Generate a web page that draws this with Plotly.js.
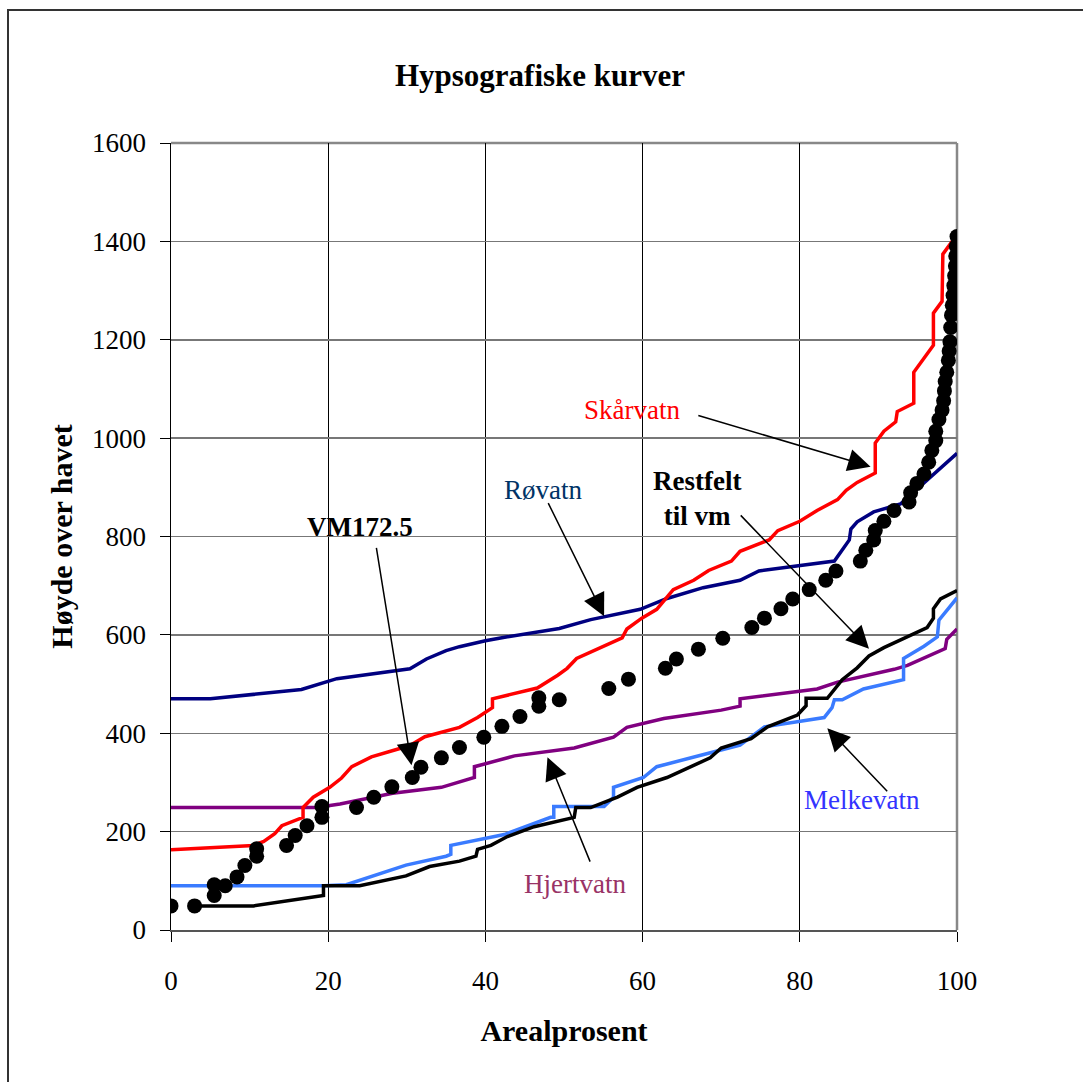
<!DOCTYPE html>
<html>
<head>
<meta charset="utf-8">
<script src="https://cdn.plot.ly/plotly-3.0.1.min.js"></script>
<style>
  html, body { margin: 0; padding: 0; background: #fff; }
  #chart { width: 1083px; height: 1082px; position: relative; }
  #frame { position: absolute; left: 7px; top: 9px; width: 1100px; height: 1100px;
           border-left: 2px solid #333; border-top: 2px solid #333; pointer-events: none; }
</style>
</head>
<body>
<div id="chart"></div>
<div id="frame"></div>
<script>
// ---- Data ----
const rovatnX = [0, 5, 16.6, 21.1, 30.4, 32.5, 35, 36.7, 40, 42.8, 49.4, 53.4, 59.7, 63.1, 67.7, 72.4, 74.8, 80, 84.4, 86.3, 86.5, 87.3, 89.4, 92.8, 100];
const rovatnY = [470, 470, 489, 511, 531, 551, 568, 576, 588, 596, 613, 631, 652, 674, 696, 711, 730, 740, 750, 793, 815, 830, 850, 866, 969];

const skarvatnX = [0, 10.5, 11.8, 13.2, 14.1, 16.8, 16.8, 18.1, 20.2, 21.7, 23, 25.5, 28.9, 30.4, 32.3, 36.7, 39, 40.9, 40.9, 43.7, 46.6, 49.2, 50.4, 51.6, 57.4, 58, 59.9, 61.8, 63.3, 63.9, 66.5, 68.4, 71.3, 72.4, 76.1, 77.2, 80, 82.2, 84.8, 85.9, 87.3, 89.6, 89.6, 90.7, 92.2, 92.4, 94.5, 94.5, 97, 97, 98.1, 98.2, 99.6];
const skarvatnY = [163, 172, 180, 196, 212, 229, 249, 270, 290, 309, 332, 352, 368, 375, 393, 412, 432, 452, 470, 481, 492, 518, 532, 552, 594, 612, 634, 652, 681, 692, 711, 731, 750, 770, 793, 812, 831, 853, 875, 894, 910, 929, 990, 1014, 1033, 1054, 1071, 1134, 1189, 1254, 1278, 1374, 1405];

const hjertvatnX = [0, 18.5, 21.5, 28.2, 34.4, 36.7, 38.6, 38.6, 43.7, 51.3, 56.3, 58, 62.7, 70, 72.4, 72.4, 82.2, 84.8, 92, 93.7, 98.5, 98.7, 100];
const hjertvatnY = [249, 249, 256, 278, 290, 300, 310, 332, 354, 370, 392, 412, 430, 447, 455, 470, 490, 504, 530, 538, 572, 591, 612];

const melkevatnX = [0, 19.4, 22.3, 24, 29.9, 35, 35.6, 35.6, 42.4, 48.3, 48.7, 48.7, 55.1, 56.3, 56.3, 60.1, 61.8, 72.4, 75.5, 83.1, 84.1, 84.4, 85.4, 88.1, 93.2, 93.2, 95.8, 97.5, 97.7, 100];
const melkevatnY = [90, 90, 92, 101, 132, 150, 154, 172, 194, 229, 229, 251, 251, 270, 290, 310, 332, 376, 413, 432, 452, 468, 468, 490, 509, 552, 577, 596, 630, 675];

const restfeltX = [3, 10.5, 19.4, 19.4, 24, 29.9, 32.9, 36.7, 38.8, 39, 40.7, 42.8, 46.2, 51.3, 51.5, 53.4, 56.8, 59.3, 63.1, 68.6, 70, 73.8, 75.9, 79.7, 80.8, 80.8, 83.5, 85.4, 87.3, 88.8, 90.7, 96.2, 97, 97, 97.9, 100];
const restfeltY = [49, 49, 70, 90, 90, 110, 129, 140, 150, 164, 172, 190, 210, 229, 249, 249, 270, 290, 310, 350, 370, 389, 413, 437, 456, 471, 471, 509, 533, 557, 574, 615, 634, 653, 673, 690];

const vmX = [0, 3, 5.5, 5.5, 6.9, 8.4, 9.4, 10.9, 10.9, 14.7, 15.8, 17.3, 19.2, 19.2, 23.6, 25.8, 28.1, 30.7, 31.8, 34.4, 36.7, 39.8, 42.1, 44.4, 46.8, 46.8, 49.4, 55.7, 58.2, 62.9, 64.3, 67.1, 70.2,
             73.9, 75.5, 77.6, 79.1, 81.2, 83.3, 84.6, 87.7, 88.4, 89.4, 89.6, 90.7, 92, 93.9, 94.1, 94.9, 95.8, 96.4, 96.8, 97.3, 97.3, 97.7, 98.1, 98.3, 98.4, 98.5, 98.7,
             98.9, 99.0, 99.1, 99.2, 99.3, 99.4, 99.5, 99.6, 99.7, 99.8, 99.85, 99.9, 100];
const vmY = [49, 49, 70, 92, 90, 108, 131, 150, 165, 172, 192, 212, 229, 251, 249, 270, 291, 310, 331, 350, 371, 392, 414, 434, 455, 472, 468, 491, 510, 532, 551, 571, 593,
             615, 634, 653, 673, 692, 711, 730, 750, 772, 793, 812, 831, 853, 870, 889, 908, 927, 951, 975, 995, 1014, 1038, 1057, 1076, 1096, 1115, 1134,
             1158, 1177, 1196, 1225, 1250, 1270, 1290, 1310, 1330, 1350, 1370, 1390, 1410];

const xTicks = [0, 20, 40, 60, 80, 100];
const yTicks = [0, 200, 400, 600, 800, 1000, 1200, 1400, 1600];

const labelTexts = ['VM172.5', 'Røvatn', 'Skårvatn', 'Restfelt<br>til vm', 'Hjertvatn', 'Melkevatn'];
const labelX = [24, 47.3, 58.7, 66.9, 51.4, 87.9];
const labelY = [819, 894, 1057, 878, 94, 264];
const labelColors = ['#000000', '#003366', '#FF0000', '#000000', '#993366', '#3333FF'];
const labelBold = [true, false, false, true, false, false];

// arrows: tail (ax, ay) -> tip (x, y)
const arrowTailX = [26.1, 47.9, 66.9, 72.3, 53.4, 91.3];
const arrowTailY = [780, 871, 1047, 846, 136, 279];
const arrowTipX = [30.6, 55.1, 89, 88.8, 47.9, 83.5];
const arrowTipY = [335, 638, 942, 572, 351, 410];

const serif = 'Liberation Serif, Times New Roman, serif';

function lineTrace(x, y, color, name) {
  return { x: x, y: y, type: 'scatter', mode: 'lines', name: name,
           line: { color: color, width: 3.5 }, hoverinfo: 'skip' };
}

const traces = [
  lineTrace(hjertvatnX, hjertvatnY, '#800080', 'Hjertvatn'),
  lineTrace(melkevatnX, melkevatnY, '#3A7BFF', 'Melkevatn'),
  lineTrace(rovatnX, rovatnY, '#000080', 'Røvatn'),
  lineTrace(skarvatnX, skarvatnY, '#FF0000', 'Skårvatn'),
  lineTrace(restfeltX, restfeltY, '#000000', 'Restfelt til vm'),
  { x: vmX, y: vmY, type: 'scatter', mode: 'markers', name: 'VM172.5',
    marker: { color: '#000000', size: 15 }, hoverinfo: 'skip' }
];

const annotations = [];
for (let i = 0; i < labelTexts.length; i++) {
  annotations.push({
    x: labelX[i], y: labelY[i], xref: 'x', yref: 'y', showarrow: false,
    text: labelBold[i] ? '<b>' + labelTexts[i] + '</b>' : labelTexts[i],
    font: { family: serif, size: 27, color: labelColors[i] },
    xanchor: 'center', yanchor: 'middle'
  });
}
for (let i = 0; i < arrowTipX.length; i++) {
  annotations.push({
    x: arrowTipX[i], y: arrowTipY[i], ax: arrowTailX[i], ay: arrowTailY[i],
    xref: 'x', yref: 'y', axref: 'x', ayref: 'y', text: '',
    showarrow: true, arrowhead: 2, arrowsize: 3, arrowwidth: 1.5, arrowcolor: '#000',
    standoff: 0, startstandoff: 0
  });
}

const layout = {
  width: 1083, height: 1082,
  margin: { l: 171, r: 126, t: 143, b: 152 },
  paper_bgcolor: '#fff', plot_bgcolor: '#fff',
  showlegend: false,
  title: { text: '<b>Hypsografiske kurver</b>', font: { family: serif, size: 31, color: '#000' },
           x: 0.4986, xref: 'container', xanchor: 'center', y: 0.9307, yref: 'container', yanchor: 'middle' },
  xaxis: {
    range: [0, 100], tickvals: xTicks, ticktext: xTicks.map(String),
    showgrid: true, gridcolor: '#000', gridwidth: 1,
    zeroline: false, showline: true, linecolor: '#555', linewidth: 2,
    ticks: 'outside', ticklen: 10, tickcolor: '#000', tickwidth: 1,
    tickfont: { family: serif, size: 27, color: '#000' }, ticklabelstandoff: 16,
    title: { text: '<b>Arealprosent</b>', font: { family: serif, size: 30, color: '#000' }, standoff: 25 }
  },
  yaxis: {
    range: [0, 1600], tickvals: yTicks, ticktext: yTicks.map(String),
    showgrid: true, gridcolor: '#777', gridwidth: 1.5,
    zeroline: false, showline: true, linecolor: '#000', linewidth: 1.5,
    ticks: 'outside', ticklen: 10, tickcolor: '#000', tickwidth: 1,
    tickfont: { family: serif, size: 27, color: '#000' }, ticklabelstandoff: 8,
    title: { text: '<b>Høyde over havet</b>', font: { family: serif, size: 30, color: '#000' }, standoff: 10 }
  },
  shapes: [
    { type: 'line', xref: 'paper', yref: 'paper', x0: 0, x1: 1, y0: 1, y1: 1, line: { color: '#888', width: 2.5 }, layer: 'below' },
    { type: 'line', xref: 'paper', yref: 'paper', x0: 1, x1: 1, y0: 0, y1: 1, line: { color: '#888', width: 2.5 }, layer: 'below' }
  ],
  annotations: annotations
};

Plotly.newPlot('chart', traces, layout, { staticPlot: true, displayModeBar: false });
</script>
</body>
</html>
